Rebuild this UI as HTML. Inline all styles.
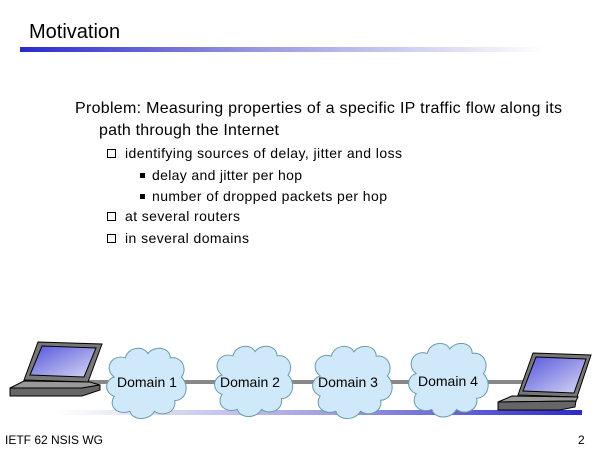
<!DOCTYPE html>
<html><head><meta charset="utf-8"><style>
body{margin:0;background:#fff;}
svg{display:block;font-family:"Liberation Sans",Arial,sans-serif;}
</style></head><body>
<svg width="600" height="450" viewBox="0 0 600 450" xmlns="http://www.w3.org/2000/svg">
<defs>
<linearGradient id="g1" x1="0" x2="1"><stop offset="0" stop-color="#2a2acc"/><stop offset="0.45" stop-color="#9999e0"/><stop offset="1" stop-color="#ffffff"/></linearGradient>
<linearGradient id="g2" x1="0" x2="1"><stop offset="0" stop-color="#ffffff"/><stop offset="0.55" stop-color="#9999e0"/><stop offset="1" stop-color="#2a2acc"/></linearGradient>
<linearGradient id="scr" x1="0" y1="0" x2="1" y2="1"><stop offset="0" stop-color="#5555dd"/><stop offset="1" stop-color="#d8d8f4"/></linearGradient>
<g id="cloud">
<path d="M10,30 C0,22 8,8 20,12 C22,2 36,0 40,8 C46,0 60,2 60,12 C70,10 76,22 70,30 C78,38 74,52 64,52 C66,62 54,68 46,62 C40,72 26,70 24,62 C14,66 4,58 10,48 C0,44 2,32 10,30 Z" fill="#cfe9fa" stroke="#6a9aa8" stroke-width="0.9"/>
</g>
</defs>
<text x="29" y="38" font-size="20" fill="#000">Motivation</text>
<rect x="20" y="47" width="525" height="5" fill="url(#g1)"/>
<g font-size="16" fill="#000">
<text x="75" y="113" textLength="487">Problem: Measuring properties of a specific IP traffic flow along its</text>
<text x="99" y="135" textLength="180">path through the Internet</text>
</g>
<g font-size="14" fill="#000">
<rect x="107.5" y="149.5" width="8" height="8" fill="none" stroke="#000"/>
<text x="125" y="158" textLength="277">identifying sources of delay, jitter and loss</text>
<rect x="140" y="173" width="5" height="5" fill="#000"/>
<text x="152" y="180" textLength="150">delay and jitter per hop</text>
<rect x="140" y="194" width="5" height="5" fill="#000"/>
<text x="152" y="201" textLength="235">number of dropped packets per hop</text>
<rect x="107.5" y="212.5" width="8" height="8" fill="none" stroke="#000"/>
<text x="125" y="221" textLength="115">at several routers</text>
<rect x="107.5" y="234.5" width="8" height="8" fill="none" stroke="#000"/>
<text x="125" y="243" textLength="124">in several domains</text>
</g>
<rect x="57" y="410" width="525" height="5" fill="url(#g2)"/>
<rect x="88" y="380" width="440" height="4" fill="#888"/>
<use href="#cloud" transform="translate(103,345) scale(1.12,1.07)"/>
<use href="#cloud" transform="translate(211,343) scale(1.1,1.07)"/>
<use href="#cloud" transform="translate(309,343) scale(1.12,1.1)"/>
<use href="#cloud" transform="translate(405,340) scale(1.12,1.12)"/>
<g font-size="14" fill="#000">
<text x="117" y="387">Domain 1</text>
<text x="220" y="387">Domain 2</text>
<text x="318" y="387">Domain 3</text>
<text x="418" y="386">Domain 4</text>
</g>
<g stroke="#000" stroke-width="1">
<polygon points="38,342 102,344 88,382 24,380" fill="#777"/>
<polygon points="42,346 96,348 84,377 30,375" fill="url(#scr)"/>
<polygon points="24,381 90,382 100,385 82,388 10,388" fill="#999"/>
<polygon points="10,388 82,388 100,385 100,390 82,396 10,396" fill="#666"/>
<polygon points="533,353 591,355 577,397 518,395" fill="#777"/>
<polygon points="536,357 586,359 574,393 523,391" fill="url(#scr)"/>
<polygon points="512,396 578,397 576,401 498,402" fill="#999"/>
<polygon points="498,402 576,401 575,407 560,410 498,410" fill="#666"/>
</g>
<text x="5" y="444" font-size="12" fill="#000">IETF 62 NSIS WG</text>
<text x="578" y="444" font-size="12" fill="#000">2</text>
</svg>
</body></html>
